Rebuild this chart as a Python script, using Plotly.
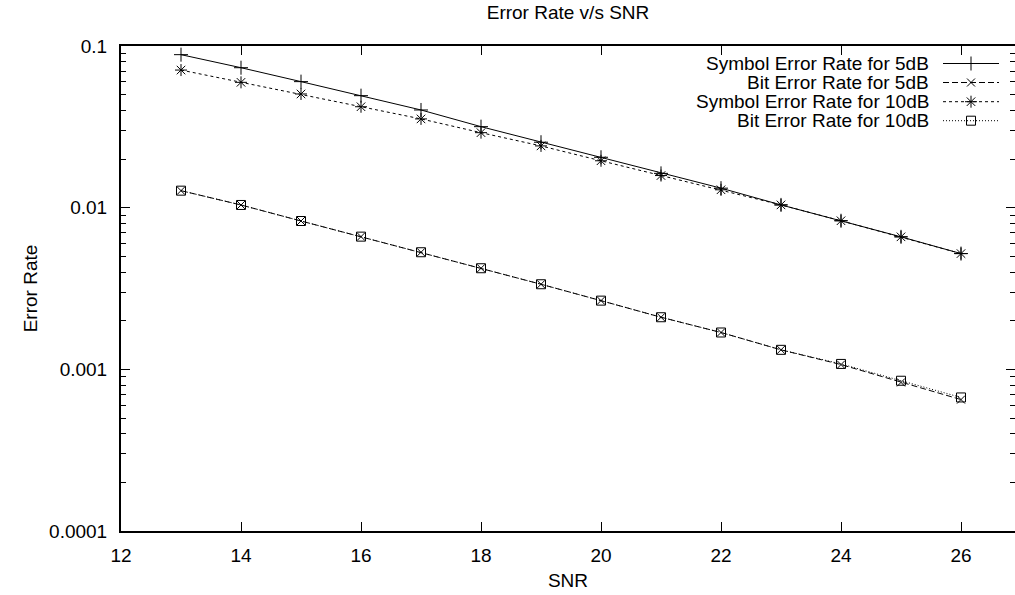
import plotly.graph_objects as go

snr = [13, 14, 15, 16, 17, 18, 19, 20, 21, 22, 23, 24, 25, 26]
ser_5db = [0.0884, 0.0734, 0.0602, 0.0493, 0.0402, 0.0317, 0.0254, 0.0205,
           0.0163, 0.0132, 0.0104, 0.0083, 0.0066, 0.0052]
ber_5db = [0.01274, 0.01039, 0.00827, 0.00662, 0.00530, 0.00422, 0.00336,
           0.00266, 0.00210, 0.00169, 0.00132, 0.00107, 0.00083, 0.00065]
ser_10db = [0.0710, 0.0596, 0.0505, 0.0421, 0.0354, 0.0291, 0.0241, 0.0195,
            0.0158, 0.0129, 0.0104, 0.0083, 0.0066, 0.0052]
ber_10db = [0.01274, 0.01039, 0.00827, 0.00662, 0.00530, 0.00422, 0.00336,
            0.00266, 0.00210, 0.00169, 0.00132, 0.00108, 0.00085, 0.00067]

names = ["Symbol Error Rate for 5dB", "Bit Error Rate for 5dB",
         "Symbol Error Rate for 10dB", "Bit Error Rate for 10dB"]
series = [ser_5db, ber_5db, ser_10db, ber_10db]
dashes = ["solid", "6px,3px", "3px,3px", "1px,2px"]
symbols = ["cross-thin-open", "x-thin-open", "asterisk-open", "square-open"]
msizes = [10, 8, 10, 9]

x_ticks = [12, 14, 16, 18, 20, 22, 24, 26]
y_ticks = [0.0001, 0.001, 0.01, 0.1]
y_ticktext = ["0.0001", "0.001", "0.01", "0.1"]

FONT = "Liberation Sans, Arial, sans-serif"
FS = 19
fig = go.Figure()

for ys, nm, d, s, ms in zip(series, names, dashes, symbols, msizes):
    fig.add_trace(go.Scatter(
        x=snr, y=ys, name=nm, mode="lines+markers",
        line=dict(color="black", width=1, dash=d),
        marker=dict(symbol=s, size=ms, color="black",
                    line=dict(color="black", width=1)),
        showlegend=False))

# custom gnuplot-style key: text on the left, sample on the right
W, H = 1015, 595
L, T, B = 121, 46, 64
pw, ph = W - L, H - T - B
row_y = [63.5, 82.5, 101.7, 120.7]
for i, nm in enumerate(names):
    yp = 1 - (row_y[i] - T) / ph
    x0 = (943 - L) / pw
    x1 = (999 - L) / pw
    xm = (971 - L) / pw
    fig.add_trace(go.Scatter(
        x=[x0, xm, x1], y=[yp, yp, yp], mode="lines",
        line=dict(color="black", width=1, dash=dashes[i]),
        xaxis="x2", yaxis="y2", showlegend=False, hoverinfo="skip"))
    fig.add_trace(go.Scatter(
        x=[xm], y=[yp], mode="markers",
        marker=dict(symbol=symbols[i], size=msizes[i], color="black",
                    line=dict(color="black", width=1)),
        xaxis="x2", yaxis="y2", showlegend=False, hoverinfo="skip"))
    fig.add_annotation(x=(931 - L) / pw, y=yp, xref="paper", yref="paper",
                       text=nm, showarrow=False, xanchor="right",
                       yanchor="middle", font=dict(size=FS, color="black"))

minor_vals = [m * 10 ** e for e in range(-4, -1) for m in range(2, 10)]

fig.update_layout(
    width=W, height=H,
    margin=dict(l=L, r=0, t=T, b=B, autoexpand=False),
    paper_bgcolor="white", plot_bgcolor="white",
    font=dict(family=FONT, size=FS, color="black"),
    title=dict(text="Error Rate v/s SNR", x=0.5, xref="paper", xanchor="center",
               y=1 - 12 / H, yref="container", yanchor="middle",
               font=dict(size=FS)),
    xaxis=dict(range=[12, 26.9], tickvals=x_ticks, ticks="inside", ticklen=9,
               tickwidth=1, tickcolor="black", showline=True, linecolor="black",
               linewidth=2, mirror="allticks", showgrid=False, zeroline=False,
               ticklabelstandoff=6, automargin=False,
               title=dict(text="SNR", standoff=9, font=dict(size=FS))),
    yaxis=dict(type="log", range=[-4, -1], tickvals=y_ticks, ticktext=y_ticktext,
               ticks="inside", ticklen=9, tickwidth=1, tickcolor="black",
               showline=True, linecolor="black", linewidth=2, mirror="allticks",
               showgrid=False, zeroline=False, ticklabelstandoff=8,
               automargin=False,
               minor=dict(tickvals=minor_vals, ticks="inside", ticklen=5,
                          tickcolor="black", tickwidth=1, showgrid=False),
               title=dict(text="Error Rate", standoff=6, font=dict(size=FS))),
    xaxis2=dict(overlaying="x", range=[0, 1], visible=False, anchor="y2"),
    yaxis2=dict(overlaying="y", range=[0, 1], visible=False, anchor="x2"),
)

fig.write_html("out.html",
               config={"displayModeBar": False},
               post_script="document.body.style.margin='0';"
                           "document.body.style.overflow='hidden';")
